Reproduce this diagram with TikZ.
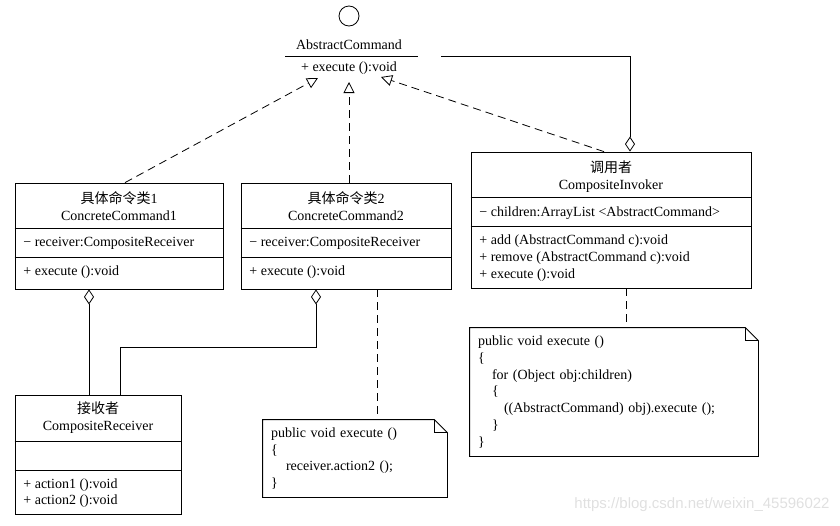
\documentclass[tikz,border=0pt]{standalone}
\usepackage{fontspec}
\setmainfont{Liberation Serif}
\newfontfamily\cjk{Noto Sans CJK SC}
\newfontfamily\wmfont{Liberation Sans}
\usetikzlibrary{arrows.meta}

\tikzset{
  classbox/.style={draw, inner sep=0pt},
  txt/.style={inner sep=0pt, align=center},
  ltxt/.style={inner sep=0pt, anchor=west},
  realize/.style={dash pattern=on 8pt off 5pt, -{Triangle[open,length=11pt,width=11pt]}},
  agg/.style={{Diamond[open,length=15pt,width=10pt]}-},
  notelink/.style={dash pattern=on 8pt off 5pt},
  notebox/.style={inner xsep=8pt, inner ysep=0pt, align=left, font=\fontsize{14}{16.8}\selectfont}
}

\begin{document}
\begin{tikzpicture}[x=1pt, y=-1pt, line width=0.8pt, font=\fontsize{14}{17}\selectfont]
\useasboundingbox (0,0) rectangle (840,525);

% abstract command (interface)
\node[draw, circle, minimum size=20pt, inner sep=0pt] (iface) at (349,16) {};
\node[txt] (absname) at (349,45) {AbstractCommand};
\node[txt] (absop) at (349,68) {+ execute ():void};
\draw (285,56) -- (418,56);
\coordinate (tip1) at (318,78);
\coordinate (tip2) at (349,82);
\coordinate (tip3) at (381,77);

% concrete command 1
\node[classbox, minimum width=208pt, minimum height=106pt] (cc1) at (119,236) {};
\draw (cc1.west |- 0,228) -- (cc1.east |- 0,228);
\draw (cc1.west |- 0,257) -- (cc1.east |- 0,257);
\node[txt] (cc1t) at (119,206) {{\cjk 具体命令类}1\\ConcreteCommand1};
\node[ltxt] (cc1a) at (23,243) {− receiver:CompositeReceiver};
\node[ltxt] (cc1m) at (23,272) {+ execute ():void};

% concrete command 2
\node[classbox, minimum width=210pt, minimum height=106pt] (cc2) at (346,236) {};
\draw (cc2.west |- 0,228) -- (cc2.east |- 0,228);
\draw (cc2.west |- 0,257) -- (cc2.east |- 0,257);
\node[txt] (cc2t) at (346,206) {{\cjk 具体命令类}2\\ConcreteCommand2};
\node[ltxt] (cc2a) at (249,243) {− receiver:CompositeReceiver};
\node[ltxt] (cc2m) at (249,272) {+ execute ():void};

% invoker
\node[classbox, minimum width=280pt, minimum height=136pt] (inv) at (611,220) {};
\draw (inv.west |- 0,197) -- (inv.east |- 0,197);
\draw (inv.west |- 0,226) -- (inv.east |- 0,226);
\node[txt] (invt) at (611,176.5) {{\cjk 调用者}\\CompositeInvoker};
\node[ltxt] (inva) at (479,213) {− children:ArrayList <AbstractCommand>};
\node[ltxt] (invm1) at (479,241) {+ add (AbstractCommand c):void};
\node[ltxt] (invm2) at (479,258) {+ remove (AbstractCommand c):void};
\node[ltxt] (invm3) at (479,275) {+ execute ():void};

% receiver
\node[classbox, minimum width=166pt, minimum height=119pt] (rcv) at (98,454.5) {};
\draw (rcv.west |- 0,441) -- (rcv.east |- 0,441);
\draw (rcv.west |- 0,470) -- (rcv.east |- 0,470);
\node[txt] (rcvt) at (98,418) {{\cjk 接收者}\\CompositeReceiver};
\node[ltxt] (rcvm1) at (23,485) {+ action1 ():void};
\node[ltxt] (rcvm2) at (23,501) {+ action2 ():void};

% notes
\node[notebox, text width=168pt, minimum height=77pt] (note1) at (355,458.5)
  {public void execute ()\\
   \{\\
   \hspace*{15pt}receiver.action2 ();\\
   \}};
\node[notebox, text width=272pt, minimum height=128pt] (note2) at (614,392)
  {public void execute ()\\
   \{\\
   \hspace*{14pt}for (Object obj:children)\\
   \hspace*{14pt}\{\\
   \hspace*{26pt}((AbstractCommand) obj).execute ();\\
   \hspace*{14pt}\}\\
   \}};
\foreach \n in {note1,note2} {
  \draw (\n.south west) -- (\n.north west) -- ([xshift=-13pt]\n.north east)
    -- ([yshift=-13pt]\n.north east) -- (\n.south east) -- cycle;
  \draw ([xshift=-13pt]\n.north east) |- ([yshift=-13pt]\n.north east);
}

% realizations
\draw[realize] (cc1.north -| 125,0) -- (tip1);
\draw[realize] (cc2.north -| 349,0) -- (tip2);
\draw[realize] (inv.north -| 604,0) -- (tip3);

% aggregations
\draw[agg] (inv.north -| 630,0) -- (630,56) -- (441,56);
\draw[agg] (cc1.south -| 89,0) -- (rcv.north -| 89,0);
\draw[agg] (cc2.south -| 316,0) -- (316,347) -- (120,347) -- (rcv.north -| 120,0);

% note links
\draw[notelink] (cc2.south -| 377,0) -- (note1.north -| 377,0);
\draw[notelink] (inv.south -| 626,0) -- (note2.north -| 626,0);

\node[anchor=east, inner sep=0pt, text=black!12, font=\wmfont\fontsize{15}{17}\selectfont] (wm) at (830,505) {https://blog.csdn.net/weixin\_45596022};
\end{tikzpicture}
\end{document}
